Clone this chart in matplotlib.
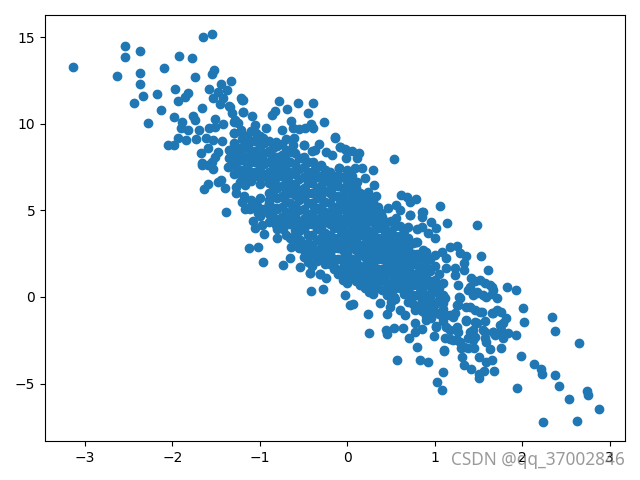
import matplotlib
matplotlib.use("Agg")
import matplotlib.pyplot as plt

upper_left = [(-3.14,13.25),(-2.63,12.73),(-2.54,14.46),(-2.54,13.83),(-2.37,14.18),(-2.37,12.91),(-2.37,12.27),(-2.33,11.58),
(-2.44,11.18),(-2.28,10.02),(-2.17,11.70),(-2.13,10.77),(-2.09,13.20),(-1.92,13.89),(-1.77,13.77),(-1.65,14.98),(-1.55,15.16),
(-1.74,12.68),(-1.52,13.08),(-1.55,12.85),(-1.33,12.45),(-1.97,11.98),(-1.82,11.75),(-1.86,11.52),(-1.93,11.29),(-1.66,10.89),
(-1.98,10.37),(-1.76,10.43),(-1.74,10.20),(-1.89,10.08),(-1.90,9.73),(-1.82,9.62),(-1.69,9.62),(-1.58,9.73),(-2.05,8.75),
(-1.98,8.75),(-1.94,9.16),(-1.84,9.04),(-1.73,9.10),(-1.58,12.0),(-1.44,12.27),(-1.48,11.81),(-1.38,11.93),(-1.53,11.47),
(-1.42,11.47),(-1.45,11.12),(-1.20,11.37),(-1.35,11.0),(-1.32,10.6),(-1.19,10.66),(-1.51,10.25),(-1.42,9.96),(-1.51,9.79),
(-1.30,10.12),(-1.30,9.45),(-1.21,9.64),(-1.61,9.16),(-1.53,9.04),(-1.43,8.98),(-1.59,8.58),(-1.67,8.29),(-1.48,8.38),(-1.51,8.1),
(-1.66,7.71),(-1.35,8.48),(-1.25,8.58),(-1.17,8.77),(-1.35,8.0),(-1.23,8.1),(-1.55,7.8)]

lower_left = [(-1.66,7.63),(-1.59,7.63),(-1.53,7.40),(-1.475,6.65),(-1.40,6.27),(-1.59,6.52),(-1.635,6.21),(-1.44,6.75),(-1.34,8.48),
(-1.36,7.52),(-1.23,6.65),(-1.17,6.46),(-1.27,5.98),(-1.18,5.83),(-1.20,5.5),(-1.17,5.06),(-1.11,5.06),(-1.39,4.89),(-1.04,5.4),
(-1.01,4.92),(-0.90,5.37),(-0.81,5.12),(-1.08,4.40),(-0.97,4.15),(-1.06,3.96),(-0.95,3.62),(-0.80,3.39),(-0.81,4.15),(-0.74,3.92),
(-0.73,4.60),(-0.62,4.67),(-0.48,4.58),(-1.12,2.81),(-1.02,2.87),(-0.96,2.0),(-0.66,2.23),(-0.73,1.85),(-0.64,2.90),(-0.58,3.87),
(-0.54,3.29),(-0.50,2.33),(-0.54,1.75),(-0.45,2.04),(-0.43,1.37),(-0.31,1.31),(-0.24,2.23),(-0.14,1.66),(-0.26,2.61),(-0.09,7.43),
(-0.49,8.77),(-0.14,9.2),(-0.08,8.67),(-0.01,8.48)]

upper_mid = [(-0.78,11.29),(-0.56,11.18),(-0.39,11.18),(-0.69,10.85),(-0.83,10.75),(-0.86,10.52),(-0.45,10.6),(-0.27,10.08),(-0.64,10.16),
(-0.41,9.97),(-0.39,9.73),(-0.48,9.73),(-0.55,9.68),(-0.62,9.73),(-0.75,9.64),(-0.93,9.75),(-1.19,11.37),(-1.21,11.47),(-1.09,10.44),
(-1.19,10.69),(-1.06,9.92),(-1.34,10.98),(-1.25,10.02),(-1.28,10.21),(-1.30,9.45),(-1.21,9.54),(-1.04,9.45),(-0.96,9.16),(-0.81,8.96),
(-0.61,9.19),(-0.49,8.77),(-0.32,8.83),(-0.14,9.23),(-0.08,8.66),(-0.02,8.56),(-0.24,8.38),(-0.18,8.18),(-0.37,8.48),(-0.62,8.77),
(-0.64,8.38),(0.05,8.44),(0.14,8.33),(-0.01,8.0),(0.11,8.0),(0.53,7.96),(-0.09,7.43),(0.09,7.43),(0.17,7.43),(0.30,7.31),(0.20,6.85),
(0.11,6.65),(0.01,6.75),(0.31,6.48),(-0.16,6.65),(-0.52,8.0),(-0.39,7.81),(-0.26,7.33),(-0.33,6.94),(0.62,5.89),(0.68,5.79),(0.79,5.64),
(0.72,5.5),(0.47,5.12),(0.56,5.31),(0.60,5.02),(0.72,4.71),(0.85,4.92),(0.85,4.02),(0.56,4.54),(0.70,4.02),(0.33,5.83),(0.24,6.08),
(0.16,5.6),(0.05,5.70),(-0.07,5.41),(0.32,5.21),(0.39,4.83),(0.24,4.63),(0.13,4.83),(-1.15,5.12),(-1.27,6.36),(-1.02,5.21),(-1.02,4.83),
(-0.90,5.41),(-0.79,4.25),(-0.73,3.96),(-0.60,3.87),(-0.48,4.54),(-0.58,3.39)]

lower_mid = [(1.06,5.25),(1.48,4.14),(1.14,4.25),(0.72,4.73),(0.87,4.92),(0.85,4.63),(0.96,4.34),(1.02,3.96),(0.92,3.71),(1.0,3.39),
(1.17,2.90),(1.25,2.94),(1.29,2.52),(1.36,2.37),(1.53,2.37),(1.33,1.94),(1.61,1.54),(1.33,1.54),(1.08,2.61),(1.13,2.23),(1.0,2.42),
(1.13,1.66),(1.23,1.66),(1.23,1.27),(0.87,2.71),(0.79,3.19),(-0.14,1.67),(-0.24,2.23),(-0.31,2.52),(-0.43,1.37),(-0.31,1.33),(-0.24,1.08),
(-0.41,0.35),(-0.28,0.44),(-0.03,0.12),(0.03,-0.48),(0.07,-0.40),(0.24,-1.0),(0.25,-2.09),(0.45,-2.15),(0.54,-1.81),(0.64,-1.81),(0.45,-1.0),
(0.37,-0.37),(0.49,-0.56),(0.60,-0.75),(0.66,-1.04),(0.77,-0.75),(0.77,-1.52),(0.86,-1.86),(0.77,-2.0),(0.71,-2.37),(0.99,-2.25),(1.01,-1.75),
(0.80,-2.87),(1.11,-3.06),(0.93,-1.04),(1.0,-0.85),(0.89,-0.37),(1.10,-0.37),(1.13,-1.04),(1.29,-0.08),(1.25,-0.46),(1.40,-0.56),(1.52,-0.85),
(1.65,-0.95),(1.71,-0.75),(1.42,1.08),(1.52,0.98),(1.63,0.69),(1.67,0.40),(1.71,-0.08),(1.40,0.59),(1.48,0.21),(1.59,0.02),(1.21,-1.14),
(1.25,-1.71),(1.13,-1.71),(1.36,-1.33),(1.48,-1.5),(1.55,-1.9),(1.40,-2.0),(1.67,-2.0),(1.75,-1.62),(1.44,-2.48),(1.59,-2.58),(1.25,-2.48),
(1.17,-2.4),(1.33,-2.9),(0.57,-3.64),(0.83,-3.64),(0.44,-1.9)]

lower_right = [(1.83,0.56),(1.93,0.39),(2.01,-0.65),(2.02,-1.46),(2.34,-1.17),(2.38,-1.98),(2.65,-2.67),(1.93,-2.21),(1.99,-3.42),(2.14,-3.88),
(2.21,-4.17),(2.23,-4.46),(2.38,-4.52),(2.42,-5.15),(2.53,-5.90),(2.74,-5.44),(2.75,-5.67),(2.88,-6.48),(2.63,-7.17),(2.24,-7.23),(1.94,-5.27),
(1.68,-4.29),(1.51,-4.69),(1.51,-4.46),(1.56,-4.29),(1.42,-4.17),(1.34,-3.94),(1.31,-3.48),(1.51,-3.48),(1.59,-3.77),(1.66,-3.64),(1.76,-2.96),
(1.63,-3.0),(1.11,-3.13),(0.92,-3.77),(1.10,-4.35),(1.03,-4.92),(1.08,-5.38),(1.45,-2.95),(1.38,-2.95),(1.30,-2.95),(1.29,-2.58),(1.21,-2.48),
(1.12,-2.38),(1.38,-2.38),(1.46,-2.3),(1.58,-2.38),(1.69,-2.19),(1.78,-2.38),(1.84,-2.09),(1.78,-1.52),(1.82,-1.23),(1.76,-0.85),(1.67,-0.9),
(1.54,-0.85),(1.46,-0.75),(1.36,-0.56),(1.27,-0.46),(1.28,-0.02),(1.44,0.12),(1.48,0.27),(1.55,0.12),(1.65,0.2),(1.65,0.6),
(1.57,0.8),(1.46,0.9),(1.38,0.4),(1.27,0.7),(1.12,-0.05),(1.10,-1.2),(1.17,-1.05),(1.23,-0.95),(1.17,-1.9),(1.27,-2.0),(1.36,-1.4),(1.46,-1.45),
(1.58,-1.4),(1.44,-1.9),(1.67,-2.0),(1.58,-2.0),(1.76,-1.9),(1.02,-1.7),(0.90,-1.3),(0.96,-1.2)]

core_columns = [
(-1.30,[8.9,8.2,7.6,7.1]),(-1.20,[9.1,8.5,7.9,7.3,6.9]),(-1.10,[9.6,9.0,8.4,7.8,7.2,6.7,5.6]),
(-1.00,[9.3,8.7,8.1,7.5,6.9,6.5,5.7,4.7]),(-0.90,[9.0,8.4,7.8,7.2,6.6,6.0,5.6,4.8,4.3]),
(-0.80,[8.7,8.1,7.5,6.9,6.3,5.7,5.1,4.5,3.9]),(-0.70,[9.1,8.5,7.9,7.3,6.7,6.1,5.5,4.9,4.4,3.6]),
(-0.60,[8.3,7.7,7.1,6.5,5.9,5.3,4.7,4.2,3.6,3.1]),(-0.50,[8.1,7.5,6.9,6.3,5.7,5.1,4.5,3.9,3.0,2.7]),
(-0.40,[8.4,7.2,6.6,6.0,5.4,4.8,4.2,3.6,3.0,2.4,1.8]),(-0.30,[7.6,7.0,6.4,5.8,5.2,4.6,4.0,3.4,2.8,2.2]),
(-0.20,[7.2,6.6,6.0,5.4,4.8,4.2,3.6,3.0,2.5,1.9]),(-0.10,[7.0,6.4,5.8,5.2,4.6,4.0,3.4,2.8,2.2,1.3]),
(0.00,[7.3,6.7,6.1,5.5,4.9,4.3,3.7,3.1,2.5,1.9,1.3,0.8]),(0.10,[6.3,5.7,5.1,4.5,3.9,3.3,2.7,2.1,1.5,0.9]),
(0.20,[5.9,5.3,4.7,4.1,3.5,2.9,2.3,1.7,1.1,0.5]),(0.30,[5.5,4.9,4.3,3.7,3.1,2.5,1.9,1.3,0.7,0.2]),
(0.40,[4.6,4.0,3.4,2.8,2.2,1.6,1.0,0.4]),(0.50,[4.4,3.8,3.2,2.6,2.0,1.4,0.8,0.2,-0.3]),
(0.60,[4.1,3.5,2.9,2.3,1.7,1.1,0.5]),(0.70,[3.4,2.8,2.2,1.6,1.0,0.4,-0.3]),
(0.80,[3.9,3.2,2.5,1.9,1.3,0.7,0.1,-0.5]),(0.90,[2.6,2.0,1.3,0.7,0.1,-0.5,-1.1]),
(1.00,[1.8,1.0,0.3,-0.4]),(1.10,[0.8,0.1,-0.7,-1.4]),
]

between_columns = [
(-1.25,[8.6,7.9,7.4]),(-1.15,[9.3,8.7,8.1,7.5,7.0]),(-1.05,[9.0,8.4,7.8,7.2]),(-0.95,[8.9,8.3,7.7,7.1,5.1]),
(-0.85,[8.6,8.0,7.4,6.8,6.2,5.9,5.0,4.6]),(-0.75,[8.8,8.2,7.6,7.0,6.4,5.8,5.2,4.6]),
(-0.65,[8.4,7.8,7.2,6.6,6.0,5.4,4.8,4.2,3.4]),(-0.55,[8.0,7.4,6.8,6.2,5.6,5.0,4.4,3.8,3.3,2.8]),
(-0.45,[7.8,7.2,6.6,6.0,5.4,4.8,4.2,3.6,3.1,2.6]),(-0.35,[7.5,6.9,6.3,5.7,5.1,4.5,3.9,3.3,2.7,2.1]),
(-0.25,[7.3,6.7,6.1,5.5,4.9,4.3,3.7,3.1,2.5,1.9]),(-0.15,[7.0,6.4,5.8,5.2,4.6,4.0,3.4,2.8,2.2,1.6]),
(-0.05,[6.9,6.3,5.7,5.1,4.5,3.9,3.3,2.7,2.1,1.7,1.0]),(0.05,[7.0,6.4,5.8,5.2,4.6,4.0,3.4,2.8,2.2,1.6,1.1]),
(0.15,[6.0,5.4,4.8,4.2,3.6,3.0,2.4,1.8,1.2,0.7]),(0.25,[5.6,5.0,4.4,3.8,3.2,2.6,2.0,1.4,0.8,0.3]),
(0.35,[5.2,4.6,4.0,3.4,2.8,2.2,1.6,1.0,0.5]),(0.45,[4.3,3.7,3.1,2.5,1.9,1.3,0.7,0.1]),
(0.55,[4.1,3.5,2.9,2.3,1.7,1.1,0.5,-0.1]),(0.65,[3.8,3.2,2.6,2.0,1.4,0.8,0.2]),
(0.75,[3.1,2.5,1.9,1.3,0.7,0.1,-0.4]),(0.85,[2.3,1.7,1.0,0.4,-0.2,-0.8]),
(0.95,[2.2,1.5,0.9,0.0,-0.7]),(1.05,[1.3,0.5,-0.2,-1.0]),
]

dense_centre = [
(-0.78,7.3),(-0.68,6.9),(-0.72,5.7),(-0.62,6.3),(-0.58,7.4),(-0.52,5.9),(-0.62,5.1),(-0.53,4.1),(-0.47,7.0),(-0.48,6.2),
(-0.42,6.8),(-0.38,5.2),(-0.43,4.4),(-0.37,7.4),(-0.33,6.1),(-0.28,6.7),(-0.32,4.3),(-0.27,5.5),(-0.28,3.7),(-0.23,7.0),
(-0.23,4.6),(-0.22,3.3),(-0.18,5.9),(-0.17,6.3),(-0.18,5.0),(-0.17,4.2),(-0.13,3.1),(-0.12,6.7),(-0.12,4.9),(-0.08,5.6),
(-0.08,4.2),(-0.07,3.6),(-0.03,2.5),(-0.03,6.2),(-0.02,5.0),(-0.02,3.2),(0.02,4.4),(0.03,5.5),(0.02,3.6),(0.03,2.1),
(0.07,6.1),(0.07,4.9),(0.08,4.2),(0.08,2.9),(0.08,1.9),(0.12,5.4),(0.12,3.6),(0.13,4.5),(0.13,2.4),(0.13,1.2),
(0.17,5.0),(0.17,3.9),(0.18,2.7),(0.18,1.6),(0.22,4.4),(0.22,3.2),(0.23,5.4),(0.23,2.1),(0.23,1.0),(0.27,3.7),
(0.27,4.7),(0.28,2.8),(0.28,1.7),(0.32,5.1),(0.32,3.4),(0.33,4.1),(0.33,2.2),(0.33,1.1),(0.37,3.0),(0.37,4.4),
(0.38,2.5),(0.38,1.3),(0.42,3.5),(0.42,4.0),(0.43,2.2),(0.43,0.9),(0.47,2.8),(0.47,1.6),(0.48,3.3),(0.48,0.4),
(0.52,2.4),(0.52,3.6),(0.53,1.2),(0.53,0.0),(0.57,3.1),(0.57,1.9),(0.58,0.8),(0.62,2.6),(0.62,1.4),(0.63,3.6),
(0.67,2.3),(0.67,1.1),(0.68,0.5),(0.72,3.1),(0.72,1.8),(0.73,-0.1),(0.78,2.2),(0.78,0.9),(0.82,1.5),(0.83,0.3),
(-1.03,7.0),(-0.93,6.9),(-0.87,7.1),(-0.83,6.5),(-0.97,8.1),(-0.88,8.3),(-1.13,8.7),(-1.07,8.1),(-0.82,7.9),(-0.72,8.0),
(1.02,0.7),(0.93,1.6),(0.97,0.4),(0.88,0.9),(0.92,-0.2),
]

points = upper_left + lower_left + upper_mid + lower_mid + lower_right + dense_centre
points += [(cx, cy) for cx, col in core_columns + between_columns for cy in col]
x_values = [p[0] for p in points]
y_values = [p[1] for p in points]

x_ticks = [-3, -2, -1, 0, 1, 2, 3]
y_ticks = [-5, 0, 5, 10, 15]
watermark = "CSDN @qq_37002846"

fig = plt.figure(figsize=(6.4, 4.8), dpi=100)
ax = fig.add_axes([45/640, 1-441/480, 580/640, 426/480])
ax.scatter(x_values, y_values)
ax.set_xlim(-3.455, 3.175)
ax.set_ylim(-8.31, 16.27)
ax.set_xticks(x_ticks)
ax.set_yticks(y_ticks)
fig.text(624.5/640, 1-460/480, watermark, color="#707070", alpha=0.7, fontsize=12.4,
         ha="right", va="center", family="Noto Sans")
fig.savefig("out.png", dpi=100)
